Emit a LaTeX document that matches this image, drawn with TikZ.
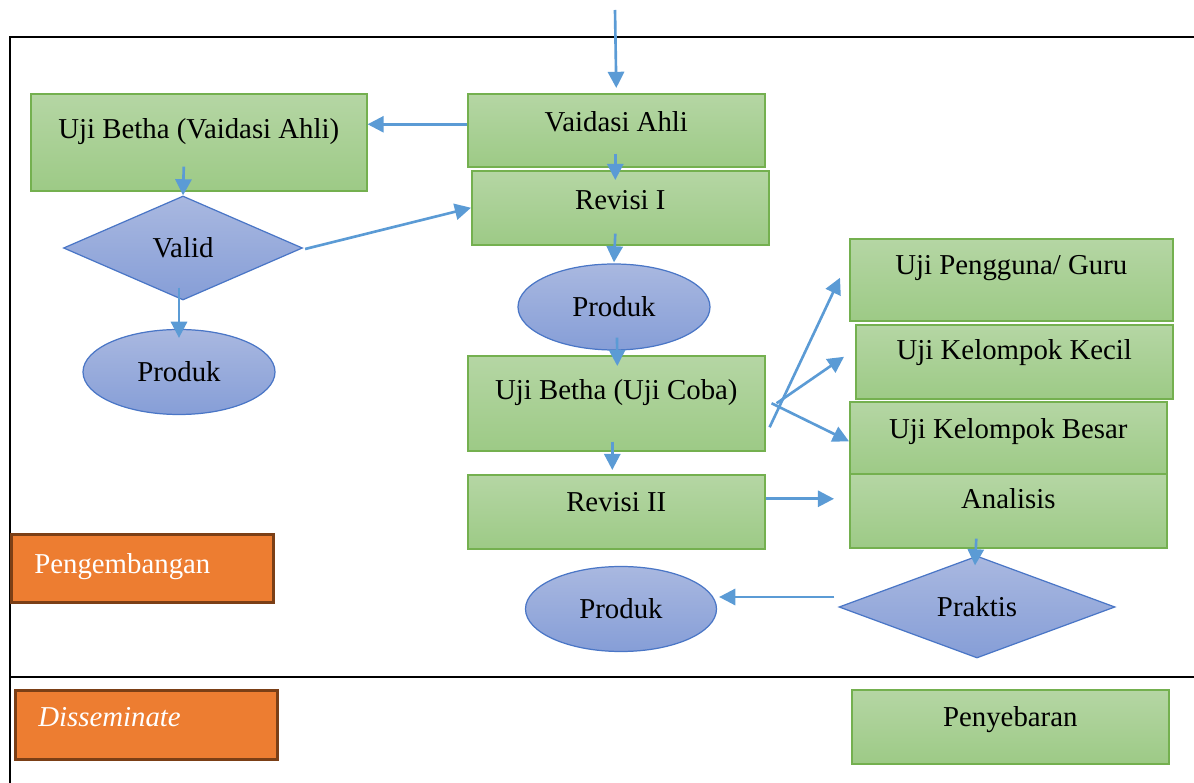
\documentclass[tikz,border=0pt]{standalone}
\usepackage{fontspec}
\setmainfont{Liberation Serif}
\usetikzlibrary{shapes.geometric,arrows.meta}

\newdimen\px \px=0.02cm

\definecolor{grtop}{HTML}{B5D6A4}
\definecolor{grbot}{HTML}{9DCA86}
\definecolor{grline}{HTML}{74B04F}
\definecolor{bltop}{HTML}{A9B8E0}
\definecolor{blbot}{HTML}{869ED7}
\definecolor{blline}{HTML}{4A76C6}
\definecolor{arrcol}{HTML}{5B9BD5}
\definecolor{orfill}{HTML}{ED7D31}
\definecolor{orline}{HTML}{7B3F16}

\tikzset{
  gbox/.style={draw=grline, line width=0.9pt, top color=grtop, bottom color=grbot,
    inner sep=0pt, anchor=north west},
  bshape/.style={draw=blline, line width=0.7pt, top color=bltop, bottom color=blbot,
    inner sep=0pt},
  obox/.style={draw=orline, line width=1.5pt, fill=orfill, text=white, inner xsep=23\px,
    inner ysep=0pt, align=left, anchor=north west},
  arr/.style={draw=arrcol, line width=1.5pt, -{Triangle[length=9.2pt,width=9.2pt]}},
  frame/.style={line width=1.4pt}
}

\begin{document}
\begin{tikzpicture}[x=\px,y=-\px,font=\fontsize{16.4}{19}\selectfont]
\useasboundingbox (0,0) rectangle (1194,783);

% frame of the table
\draw[frame] (10,783) -- (10,37) -- (1194,37);
\draw[frame] (10,677) -- (1194,677);

% left column
\node[gbox, minimum width=336\px, text height=45\px, text depth=52\px] (ujiva) at (30,93) {Uji Betha (Vaidasi Ahli)};
\node[bshape, diamond, minimum width=239\px, minimum height=104\px] (valid) at (183,248) {Valid};
\node[bshape, ellipse, minimum width=192\px, minimum height=85\px] (produk2) at (179,372) {Produk};

% middle column
\node[gbox, minimum width=297\px, text height=38\px, text depth=35\px] (vaidasi) at (467,93) {Vaidasi Ahli};
\node[gbox, minimum width=297\px, text height=39\px, text depth=35\px] (revisi1) at (471,170) {Revisi I};
\node[bshape, ellipse, minimum width=192\px, minimum height=86\px] (produk1) at (614,307) {Produk};
\node[gbox, minimum width=297\px, text height=44\px, text depth=51\px] (ujicoba) at (467,355) {Uji Betha (Uji Coba)};
\node[gbox, minimum width=297\px, text height=37\px, text depth=37\px] (revisi2) at (467,474) {Revisi II};
\node[bshape, ellipse, minimum width=191\px, minimum height=85\px] (produk3) at (621,609) {Produk};

% right column
\node[gbox, minimum width=323\px, text height=36\px, text depth=46\px] (ujiguru) at (849,238) {Uji Pengguna/ Guru};
\node[gbox, minimum width=317\px, text height=35\px, text depth=39\px] (kecil) at (855,324) {Uji Kelompok Kecil};
\node[gbox, minimum width=317\px, text height=37\px, text depth=36\px] (besar) at (849,401) {Uji Kelompok Besar};
\node[gbox, minimum width=317\px, text height=35\px, text depth=39\px] (analisis) at (849,473) {Analisis};
\node[bshape, diamond, minimum width=276\px, minimum height=102\px] (praktis) at (977,607) {Praktis};

% stage labels
\node[obox, text width=216\px, minimum width=262\px, text height=39\px, text depth=29\px] (pengembangan) at (10,533) {Pengembangan};
\node[obox, text width=216\px, minimum width=262\px, text height=36\px, text depth=33\px] (disseminate) at (14,689) {\itshape Disseminate};
\node[gbox, minimum width=317\px, text height=37\px, text depth=37\px] (penyebaran) at (851,689) {Penyebaran};

% connectors
\coordinate (masuk) at (615,10);
\draw[arr] (masuk) -- ([yshift=5\px]vaidasi.north);
\draw[arr] ([yshift=6\px]vaidasi.west) -- ([yshift=18\px]ujiva.east);
\draw[arr] ([xshift=-1\px,yshift=14\px]vaidasi.south) -- ([xshift=-5\px,yshift=-10\px]revisi1.north);
\draw[arr] ([xshift=-5\px,yshift=12\px]revisi1.south) -- ([yshift=1\px]produk1.north);
\draw[arr] ([xshift=3\px,yshift=13\px]produk1.south) -- ([xshift=1\px,yshift=-11\px]ujicoba.north);
\draw[arr] ([xshift=-4\px,yshift=10\px]ujicoba.south) -- ([xshift=-4\px,yshift=4\px]revisi2.north);
\draw[arr] ([xshift=-15\px,yshift=25\px]ujiva.south) -- (valid.north);
\draw[arr] ([xshift=2\px,yshift=-1\px]valid.east) -- (revisi1.west);
\draw[arr] ([xshift=-4\px,yshift=13\px]valid.south) -- ([yshift=-9\px]produk2.north);
\draw[arr] ([xshift=4\px,yshift=-24\px]ujicoba.east) -- ([xshift=-9\px,yshift=2\px]ujiguru.west);
\draw[arr] ([xshift=11\px]ujicoba.east) -- ([xshift=-11\px,yshift=5\px]kecil.west);
\draw[arr] ([xshift=6\px]ujicoba.east) -- ([yshift=-3\px]besar.west);
\draw[arr] ([yshift=13\px]revisi2.east) -- ([xshift=-15\px,yshift=12\px]analisis.west);
\draw[arr] ([xshift=-32\px,yshift=10\px]analisis.south) -- ([xshift=-2\px,yshift=-10\px]praktis.north);
\draw[arr] ([xshift=-4\px,yshift=10\px]praktis.west) -- ([xshift=2\px,yshift=12\px]produk3.east);
\end{tikzpicture}
\end{document}
